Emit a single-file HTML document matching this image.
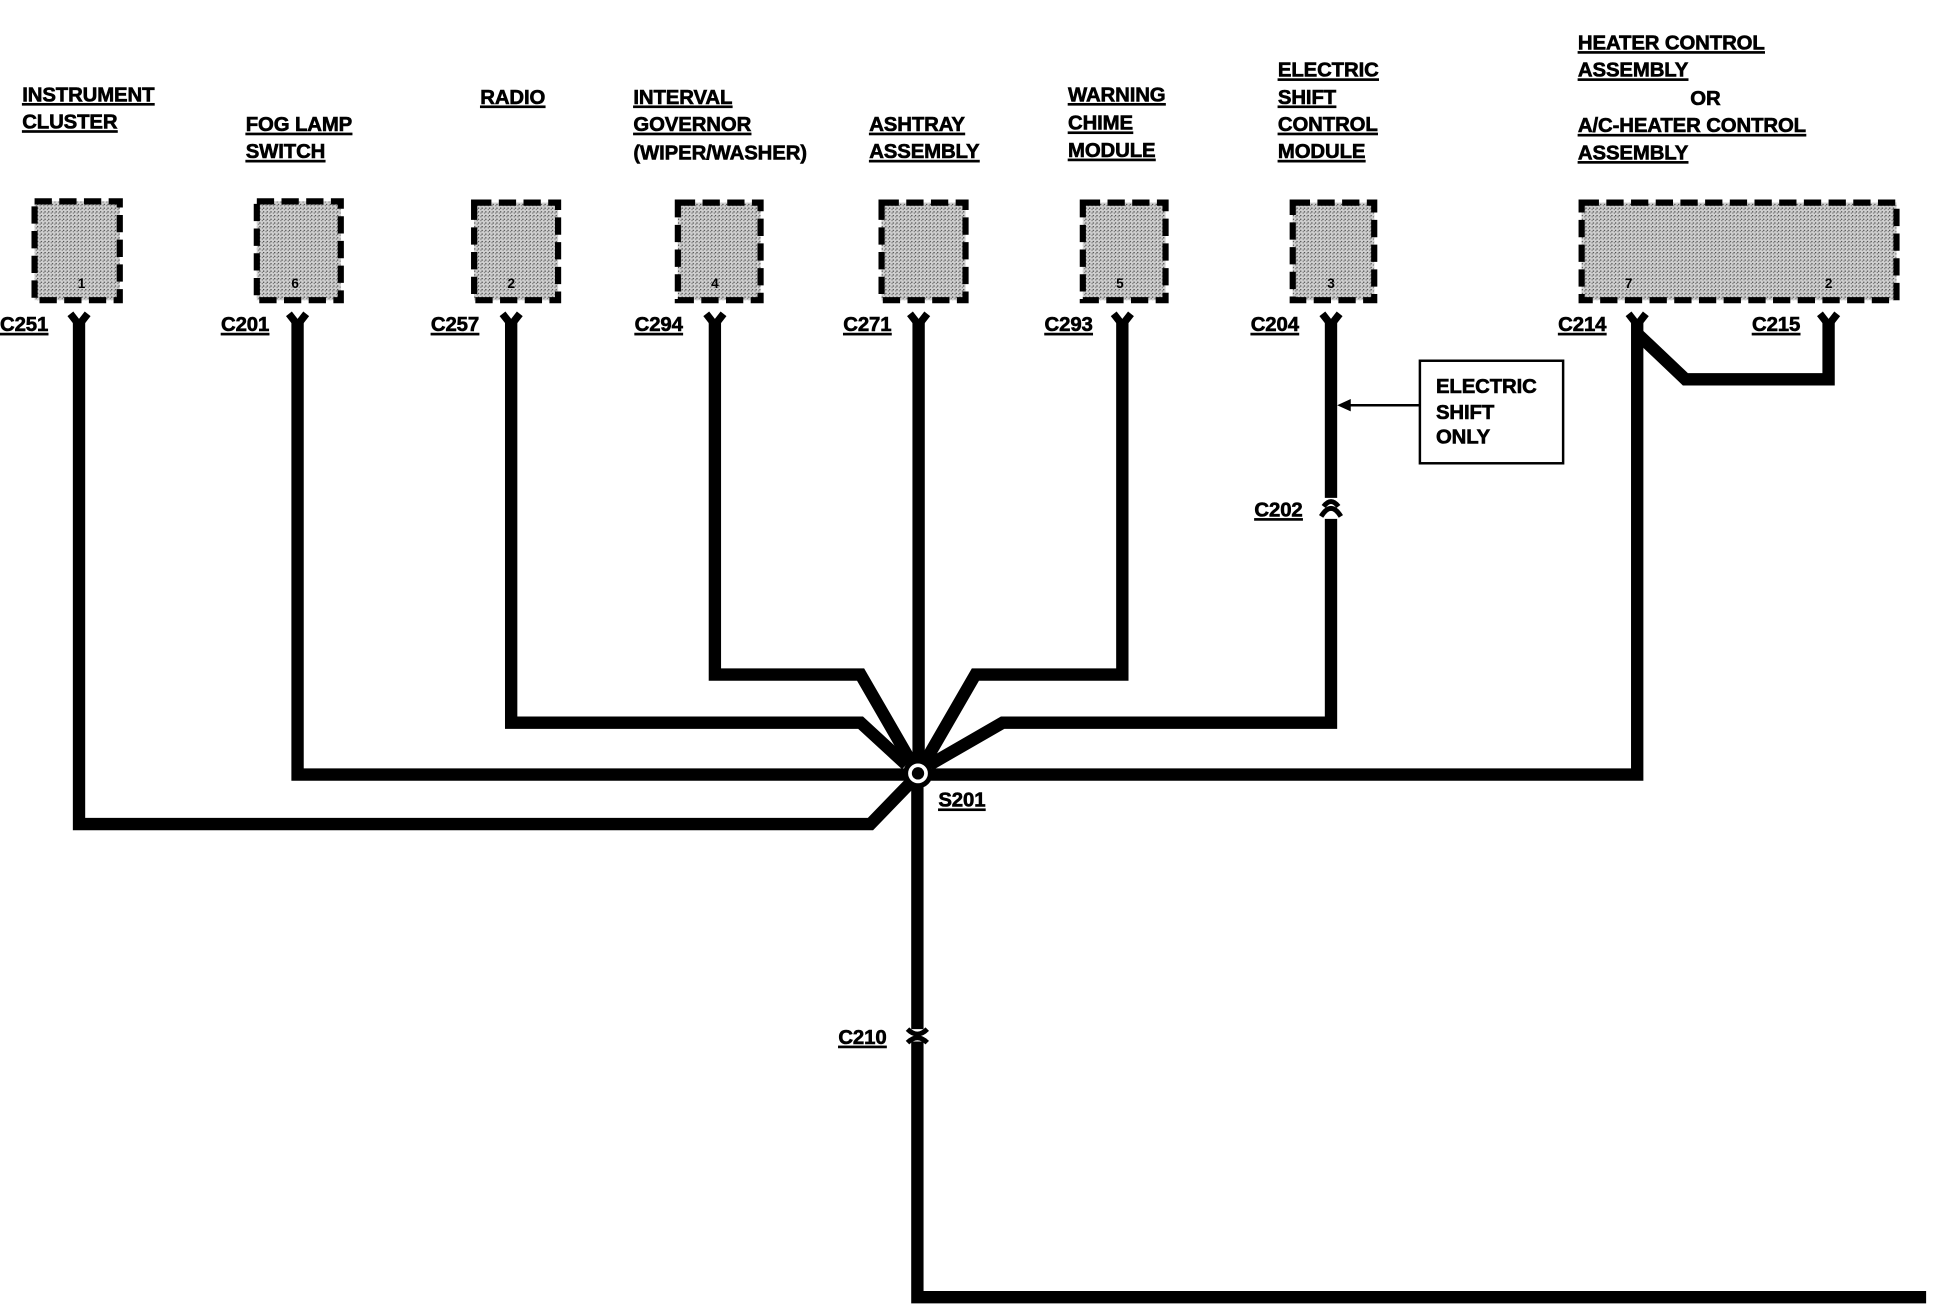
<!DOCTYPE html>
<html><head><meta charset="utf-8"><style>
html,body{margin:0;padding:0;background:#fff;width:1936px;height:1312px;overflow:hidden}
svg{display:block}
text{font-family:"Liberation Sans",sans-serif;font-weight:bold;font-size:16.5px;letter-spacing:-0.1px;fill:#000;stroke:#000;stroke-width:0.5px;text-decoration:underline}
.n{font-size:11px;text-decoration:none;letter-spacing:0;stroke-width:0}
.p{text-decoration:none}
</style></head><body>
<svg width="1936" height="1312" viewBox="0 0 1568 1062" preserveAspectRatio="none">
<defs>
<pattern id="dots" width="3" height="3" patternUnits="userSpaceOnUse">
<rect width="3" height="3" fill="#d0d0d0"/><rect width="1" height="1" fill="#444"/><rect x="2" y="1" width="1" height="1" fill="#777"/>
</pattern>
</defs>
<text x="18" y="82">INSTRUMENT</text><text x="18" y="104">CLUSTER</text>
<text x="199" y="106">FOG LAMP</text><text x="199" y="128">SWITCH</text>
<text x="389" y="84">RADIO</text>
<text x="513" y="84">INTERVAL</text><text x="513" y="106">GOVERNOR</text><text x="513" y="129" class="p">(WIPER/WASHER)</text>
<text x="704" y="106">ASHTRAY</text><text x="704" y="128">ASSEMBLY</text>
<text x="865" y="82">WARNING</text><text x="865" y="105">CHIME</text><text x="865" y="127">MODULE</text>
<text x="1035" y="62">ELECTRIC</text><text x="1035" y="84">SHIFT</text><text x="1035" y="106">CONTROL</text><text x="1035" y="128">MODULE</text>
<text x="1278" y="40">HEATER CONTROL</text><text x="1278" y="62">ASSEMBLY</text><text x="1369" y="85" class="p">OR</text>
<text x="1278" y="107">A/C-HEATER CONTROL</text><text x="1278" y="129">ASSEMBLY</text>
<g fill="url(#dots)" stroke="#000" stroke-width="5" stroke-dasharray="14,6">
<rect x="28" y="163" width="69" height="80"/>
<rect x="208" y="163" width="68" height="80"/>
<rect x="384" y="164" width="68" height="79"/>
<rect x="549" y="164" width="67" height="79"/>
<rect x="714" y="164" width="68" height="79"/>
<rect x="877" y="164" width="67" height="79"/>
<rect x="1047" y="164" width="66" height="79"/>
<rect x="1281" y="164" width="255" height="79"/>
</g>
<text class="n" x="63" y="233">1</text><text class="n" x="236" y="233">6</text><text class="n" x="411" y="233">2</text>
<text class="n" x="576" y="233">4</text><text class="n" x="904" y="233">5</text><text class="n" x="1075" y="233">3</text>
<text class="n" x="1316" y="233">7</text><text class="n" x="1478" y="233">2</text>
<text x="0" y="268">C251</text><text x="179" y="268">C201</text><text x="349" y="268">C257</text>
<text x="514" y="268">C294</text><text x="683" y="268">C271</text><text x="846" y="268">C293</text>
<text x="1013" y="268">C204</text><text x="1262" y="268">C214</text><text x="1419" y="268">C215</text>
<text x="1016" y="418">C202</text><text x="679" y="845">C210</text>
<text x="760" y="653">S201</text>
<g fill="none" stroke="#000" stroke-width="6">
<path d="M57,254 L64,263 L71,254"/><path d="M234,254 L241,263 L248,254"/><path d="M407,254 L414,263 L421,254"/>
<path d="M572,254 L579,263 L586,254"/><path d="M737,254 L744,263 L751,254"/><path d="M902,254 L909,263 L916,254"/>
<path d="M1071,254 L1078,263 L1085,254"/><path d="M1319,254 L1326,263 L1333,254"/><path d="M1474,254 L1481,263 L1488,254"/>
</g>
<g fill="none" stroke="#000" stroke-width="4">
<path d="M1070,418 Q1078,405 1086,418"/><path d="M1072,410 Q1078,402 1084,410"/>
<path d="M735,833 Q743,841 751,833"/><path d="M735,844 Q743,836 751,844"/>
</g>
<g fill="none" stroke="#000" stroke-width="10" stroke-linejoin="miter">
<path d="M64,260 V667 H705 L737,634"/>
<path d="M241,260 V627 H733"/>
<path d="M414,260 V585 H697 L734,619"/>
<path d="M579,260 V546 H697 L738,617"/>
<path d="M744,260 V617"/>
<path d="M909,260 V546 H790 L749,617"/>
<path d="M1078,260 V403"/>
<path d="M1078,420 V585 H812 L753,619"/>
<path d="M1326,260 V627 H754"/>
<path d="M1326,270 L1365,307 H1481 V260"/>
<path d="M743,636 V833"/>
<path d="M743,843 V1050 H1560"/>
</g>
<circle cx="743.5" cy="626" r="10" fill="#fff" stroke="#000" stroke-width="4"/>
<circle cx="743.5" cy="626" r="5" fill="#000"/>
<rect x="1150" y="292" width="116" height="83" fill="#fff" stroke="#000" stroke-width="2"/>
<text class="p" x="1163" y="318">ELECTRIC</text><text class="p" x="1163" y="339">SHIFT</text><text class="p" x="1163" y="359">ONLY</text>
<line x1="1150" y1="328" x2="1090" y2="328" stroke="#000" stroke-width="2"/>
<path d="M1083,328 L1094,323 L1094,333 Z" fill="#000"/>
</svg>
</body></html>
